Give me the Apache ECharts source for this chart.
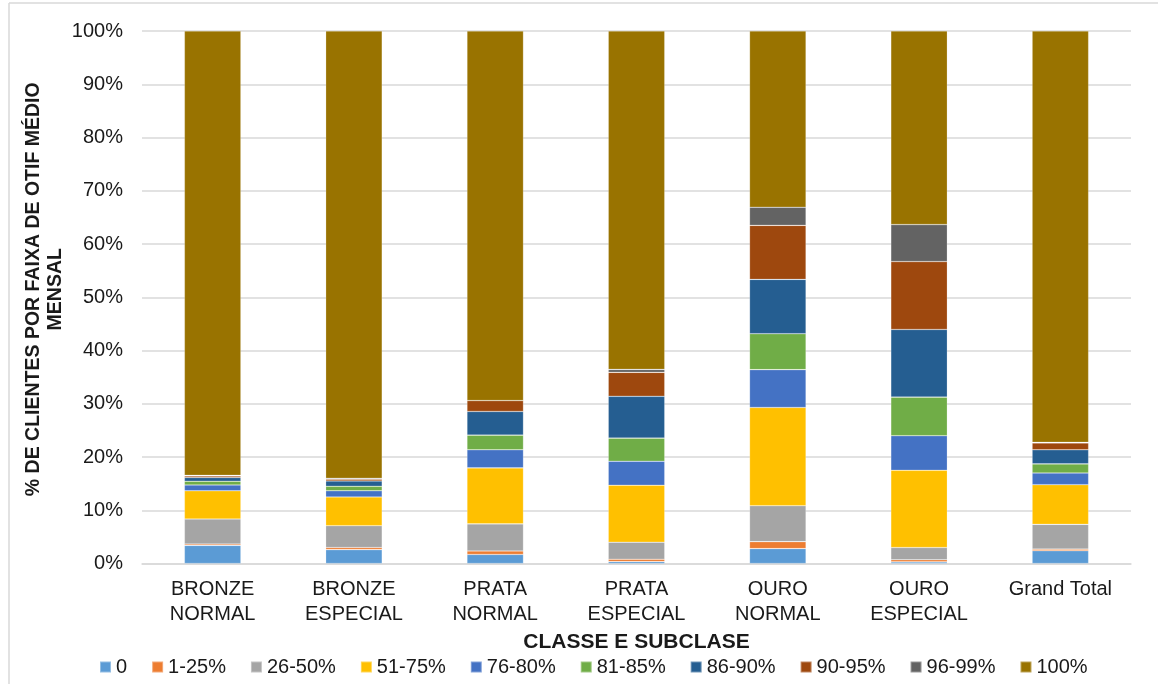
<!DOCTYPE html>
<html>
<head>
<meta charset="utf-8">
<script src="https://cdn.jsdelivr.net/npm/echarts@6/dist/echarts.min.js"></script>
<style>
  html, body { margin: 0; padding: 0; background: #fff; }
  #chart { width: 1158px; height: 684px; }
</style>
</head>
<body>
<div id="chart"></div>
<script>
// Classes / subclasses on the x axis
const categories = ['BRONZE\nNORMAL', 'BRONZE\nESPECIAL', 'PRATA\nNORMAL', 'PRATA\nESPECIAL', 'OURO\nNORMAL', 'OURO\nESPECIAL', 'Grand Total'];

// OTIF bands (stack order, bottom to top)
const bands = ['0', '1-25%', '26-50%', '51-75%', '76-80%', '81-85%', '86-90%', '90-95%', '96-99%', '100%'];
const bandColors = ['#5B9BD5', '#ED7D31', '#A5A5A5', '#FFC000', '#4472C4', '#70AD47', '#255E91', '#9E480E', '#636363', '#997300'];

// Share of clients (%) per band, one value per category
const v0     = [3.4, 2.6, 1.7, 0.35, 2.8, 0.3, 2.4];
const v1_25  = [0.25, 0.4, 0.65, 0.45, 1.3, 0.4, 0.3];
const v26_50 = [4.7, 4.1, 5.1, 3.2, 6.75, 2.3, 4.65];
const v51_75 = [5.3, 5.4, 10.5, 10.7, 18.45, 14.5, 7.45];
const v76_80 = [1.1, 1.15, 3.4, 4.5, 7.1, 6.5, 2.2];
const v81_85 = [0.7, 0.85, 2.75, 4.35, 6.75, 7.25, 1.7];
const v86_90 = [0.7, 1.0, 4.45, 7.85, 10.2, 12.7, 2.65];
const v90_95 = [0.3, 0.35, 2.05, 4.5, 10.15, 12.75, 1.3];
const v96_99 = [0.1, 0.15, 0.0, 0.55, 3.4, 6.95, 0.1];
const v100   = [83.45, 84.0, 69.4, 63.55, 33.1, 36.35, 77.25];

const yTicks = ['0%', '10%', '20%', '30%', '40%', '50%', '60%', '70%', '80%', '90%', '100%'];

const bandValues = [v0, v1_25, v26_50, v51_75, v76_80, v81_85, v86_90, v90_95, v96_99, v100];

const font = 'Liberation Sans, Arial, sans-serif';
const textColor = '#1a1a1a';

const series = bands.map((name, i) => ({
  name: name,
  type: 'bar',
  stack: 'otif',
  barCategoryGap: '60%',
  data: bandValues[i],
  itemStyle: {
    color: bandColors[i],
    borderColor: 'rgba(255,255,255,0.35)',
    borderWidth: 0.6
  },
  emphasis: { disabled: true }
}));

const chart = echarts.init(document.getElementById('chart'), null, { renderer: 'canvas' });
chart.setOption({
  animation: false,
  backgroundColor: '#fff',
  textStyle: { fontFamily: font },
  grid: { left: 142, right: 27, top: 31, bottom: 120.5 },
  graphic: [
    { type: 'line', shape: { x1: 9, y1: 3, x2: 9, y2: 684 }, style: { stroke: '#d9d9d9', lineWidth: 1.5 } },
    { type: 'line', shape: { x1: 9, y1: 3, x2: 1158, y2: 3 }, style: { stroke: '#d9d9d9', lineWidth: 1.5 } }
  ],
  legend: {
    data: bands,
    bottom: 2,
    left: 94,
    itemWidth: 11,
    itemHeight: 11,
    itemGap: 24,
    icon: 'rect',
    textStyle: { fontSize: 20, color: textColor, fontFamily: font }
  },
  xAxis: {
    type: 'category',
    data: categories,
    name: 'CLASSE E SUBCLASE',
    nameLocation: 'middle',
    nameGap: 68,
    nameMoveOverlap: false,
    nameTextStyle: { fontSize: 21, fontWeight: 'bold', color: textColor, fontFamily: font },
    axisLine: { lineStyle: { color: '#d9d9d9', width: 1.5 } },
    axisTick: { show: false },
    axisLabel: { fontSize: 20, color: textColor, lineHeight: 25, margin: 13, fontFamily: font, interval: 0 }
  },
  yAxis: {
    type: 'value',
    min: 0,
    max: 100,
    interval: 10,
    name: '% DE CLIENTES POR FAIXA DE OTIF MÉDIO\nMENSAL',
    nameLocation: 'middle',
    nameRotate: 90,
    nameGap: 75,
    nameMoveOverlap: false,
    nameTextStyle: { fontSize: 19.5, fontWeight: 'bold', color: textColor, lineHeight: 22, fontFamily: font, padding: [0, 0, 0, 16] },
    axisLine: { show: false },
    axisTick: { show: false },
    splitLine: { lineStyle: { color: '#d9d9d9', width: 1.5 } },
    axisLabel: {
      fontSize: 20,
      color: textColor,
      margin: 19,
      fontFamily: font,
      formatter: (val) => yTicks[Math.round(val / 10)]
    }
  },
  series: series
});
</script>
</body>
</html>
